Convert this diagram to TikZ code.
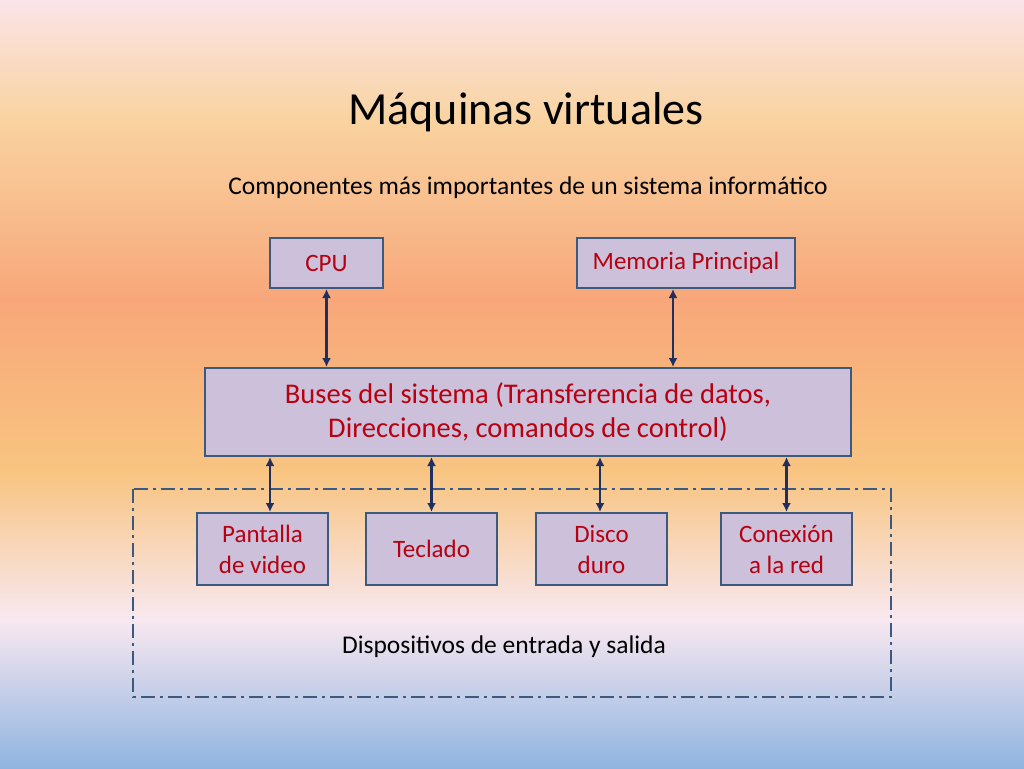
\documentclass[tikz,border=0pt]{standalone}
\usepackage{fontspec}
\setmainfont{Carlito}
\usetikzlibrary{positioning, calc, arrows.meta}

\definecolor{boxfill}{HTML}{CCC0DA}
\definecolor{boxline}{HTML}{3C5A80}
\definecolor{arrowcol}{HTML}{1F3060}
\definecolor{textred}{HTML}{B80010}

\tikzset{
    part/.style={draw=boxline, line width=2pt, fill=boxfill, text=textred,
        align=center, inner sep=0pt, font=\fontsize{25}{31}\selectfont},
    link/.style={{Latex[length=9pt,width=9pt]}-{Latex[length=9pt,width=9pt]}, draw=arrowcol, line width=2.4pt}
}

\begin{document}
\begin{tikzpicture}[x=1pt, y=-1pt]
    % background
    \useasboundingbox (0,0) rectangle (1024,768);
    \shade[top color={rgb,255:red,250;green,228;blue,232}, bottom color={rgb,255:red,249;green,211;blue,160}] (0,0) rectangle (1024,120);
    \shade[top color={rgb,255:red,249;green,211;blue,160}, bottom color={rgb,255:red,248;green,167;blue,122}] (0,120) rectangle (1024,300);
    \shade[top color={rgb,255:red,248;green,167;blue,122}, bottom color={rgb,255:red,248;green,196;blue,128}] (0,300) rectangle (1024,470);
    \shade[top color={rgb,255:red,248;green,196;blue,128}, bottom color={rgb,255:red,248;green,232;blue,240}] (0,470) rectangle (1024,620);
    \shade[top color={rgb,255:red,248;green,232;blue,240}, bottom color={rgb,255:red,144;green,180;blue,224}] (0,620) rectangle (1024,768);

    % titles
    \node (title) at (526,112) {\fontsize{46}{54}\selectfont Máquinas virtuales};
    \node (sub) at (528,188) {\fontsize{25.5}{30}\selectfont Componentes más importantes de un sistema informático};

    % group frame
    \draw[boxline, line width=2.4pt, dash pattern=on 14pt off 5pt on 3pt off 5pt] (133,489) rectangle (891,697);
    \node (io) at (504,647) {\fontsize{25.5}{30}\selectfont Dispositivos de entrada y salida};

    % boxes
    \node[part, minimum width=113, minimum height=50] (cpu) at (326.5,263) {CPU};
    \node[part, minimum width=218, minimum height=50] (mem) at (686,263) {Memoria Principal};
    \node[part, minimum width=646, minimum height=88, font=\fontsize{28.5}{34}\selectfont] (bus) at (528,412)
        {Buses del sistema (Transferencia de datos,\\Direcciones, comandos de control)};
    \node[part, minimum width=131, minimum height=72] (screen) at (262.5,549) {Pantalla\\de video};
    \node[part, minimum width=131, minimum height=72] (keys) at (431.5,549) {Teclado};
    \node[part, minimum width=131, minimum height=72] (disk) at (601.5,549) {Disco\\duro};
    \node[part, minimum width=131, minimum height=72] (net) at (786.5,549) {Conexión\\a la red};

    % connectors
    \draw[link] (cpu.south) -- (cpu.south |- bus.north);
    \draw[link] (mem.south -| 673,0) -- (673,0 |- bus.north);
    \draw[link] (bus.south -| 270,0) -- (270,0 |- screen.north);
    \draw[link] (bus.south -| keys.north) -- (keys.north);
    \draw[link] (bus.south -| 600,0) -- (600,0 |- disk.north);
    \draw[link] (bus.south -| net.north) -- (net.north);
\end{tikzpicture}
\end{document}
